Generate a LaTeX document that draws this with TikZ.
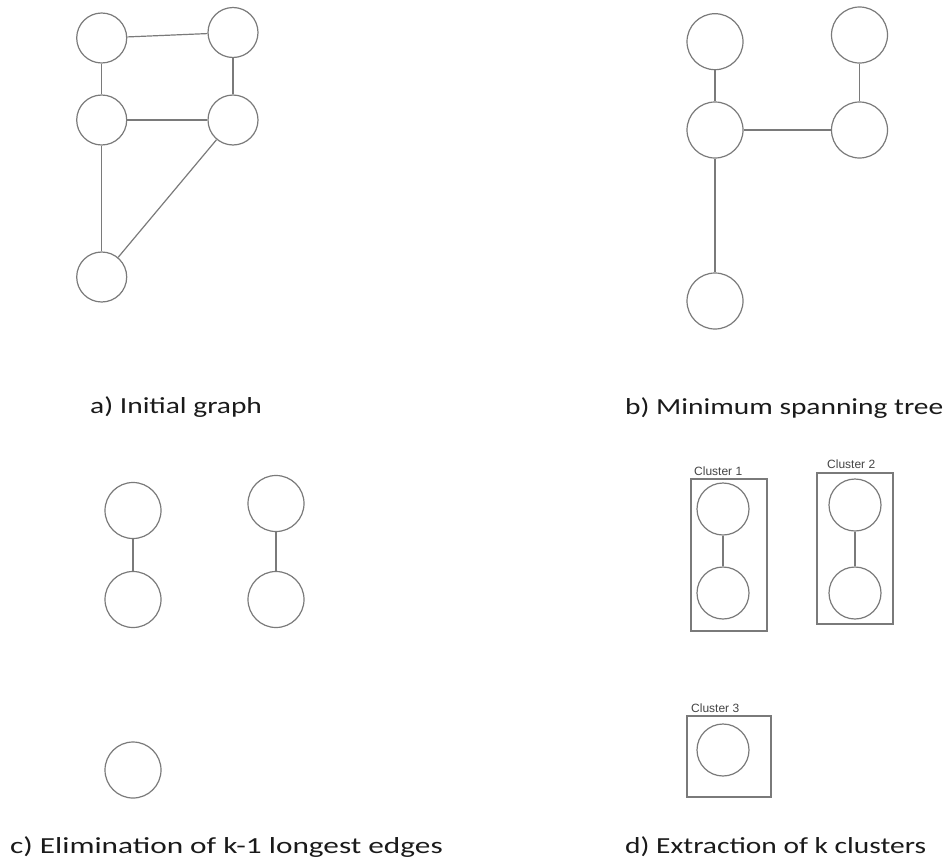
\documentclass[tikz,border=0pt]{standalone}
\usepackage{fontspec}
\usepackage{xcolor}
\setmainfont{Carlito}
\newfontfamily\clusterfont{Liberation Sans}
\usetikzlibrary{positioning}
\definecolor{GraphGray}{HTML}{7A7A7A}
\definecolor{CaptionInk}{HTML}{1A1A1A}
\definecolor{ClusterInk}{HTML}{444444}
\newcommand{\stepcaption}[2][1.28]{\scalebox{#1}[1]{#2}}

\begin{document}
\begin{tikzpicture}[x=1pt,y=-1pt]
  \tikzset{vertex/.style={circle,draw=GraphGray,line width=1.2pt,fill=white,
    inner sep=0pt,minimum size=#1},vertex/.default=56pt,
    edge/.style={draw=GraphGray,line width=1.2pt},
    clusterbox/.style={draw=GraphGray,line width=1.2pt,inner sep=0pt},
    clusterlabel/.style={anchor=base west,inner sep=0pt,text=ClusterInk,
      font=\clusterfont\fontsize{12}{14}\selectfont},
    caption/.style={anchor=base west,inner sep=0pt,text=CaptionInk,
      font=\fontsize{23}{27}\selectfont}}
  \useasboundingbox (0,0) rectangle (949,862);
  % a) initial graph
  \node[vertex=50pt] (a1) at (101.7,38) {};
  \node[vertex=50pt] (a2) at (233,32.5) {};
  \node[vertex=50pt] (a3) at (101.7,120) {};
  \node[vertex=50pt] (a4) at (233,120) {};
  \node[vertex=50pt] (a5) at (101.7,277) {};
  \draw[edge] (a1) -- (a2);
  \draw[edge] (a1) -- (a3);
  \draw[edge] (a2) -- (a4);
  \draw[edge] (a3) -- (a4);
  \draw[edge] (a3) -- (a5);
  \draw[edge] (a4) -- (a5);
  \node[caption] (capa) at (90,413) {\stepcaption{a) Initial graph}};
  % b) minimum spanning tree
  \node[vertex] (b1) at (715,41.7) {};
  \node[vertex] (b2) at (859.5,35) {};
  \node[vertex] (b3) at (715,130) {};
  \node[vertex] (b4) at (859.5,130) {};
  \node[vertex] (b5) at (715,301) {};
  \draw[edge] (b1) -- (b3);
  \draw[edge] (b2) -- (b4);
  \draw[edge] (b3) -- (b4);
  \draw[edge] (b3) -- (b5);
  \node[caption] (capb) at (625,414) {\stepcaption{b) Minimum spanning tree}};
  % c) k-1 longest edges removed
  \node[vertex] (c1) at (133,510.5) {};
  \node[vertex] (c2) at (276,503.5) {};
  \node[vertex] (c3) at (133,599.5) {};
  \node[vertex] (c4) at (276,599.5) {};
  \node[vertex] (c5) at (133,770) {};
  \draw[edge] (c1) -- (c3);
  \draw[edge] (c2) -- (c4);
  \node[caption] (capc) at (10,853) {\stepcaption[1.36]{c) Elimination of k-1 longest edges}};
  % d) k clusters
  \node[clusterbox,minimum width=76pt,minimum height=152pt] (cl1) at (729,555) {};
  \node[clusterbox,minimum width=76pt,minimum height=151pt] (cl2) at (855,548.5) {};
  \node[clusterbox,minimum width=84pt,minimum height=81pt] (cl3) at (729,756.5) {};
  \node[clusterlabel] (lab1) at (694,475) {Cluster 1};
  \node[clusterlabel] (lab2) at (827,468) {Cluster 2};
  \node[clusterlabel] (lab3) at (691,712) {Cluster 3};
  \node[vertex=52pt] (d1) at (723,509) {};
  \node[vertex=52pt] (d2) at (723,593) {};
  \node[vertex=52pt] (d3) at (855,505) {};
  \node[vertex=52pt] (d4) at (855,593) {};
  \node[vertex=52pt] (d5) at (723,750) {};
  \draw[edge] (d1) -- (d2);
  \draw[edge] (d3) -- (d4);
  \node[caption] (capd) at (625,853) {\stepcaption{d) Extraction of k clusters}};
\end{tikzpicture}
\end{document}
